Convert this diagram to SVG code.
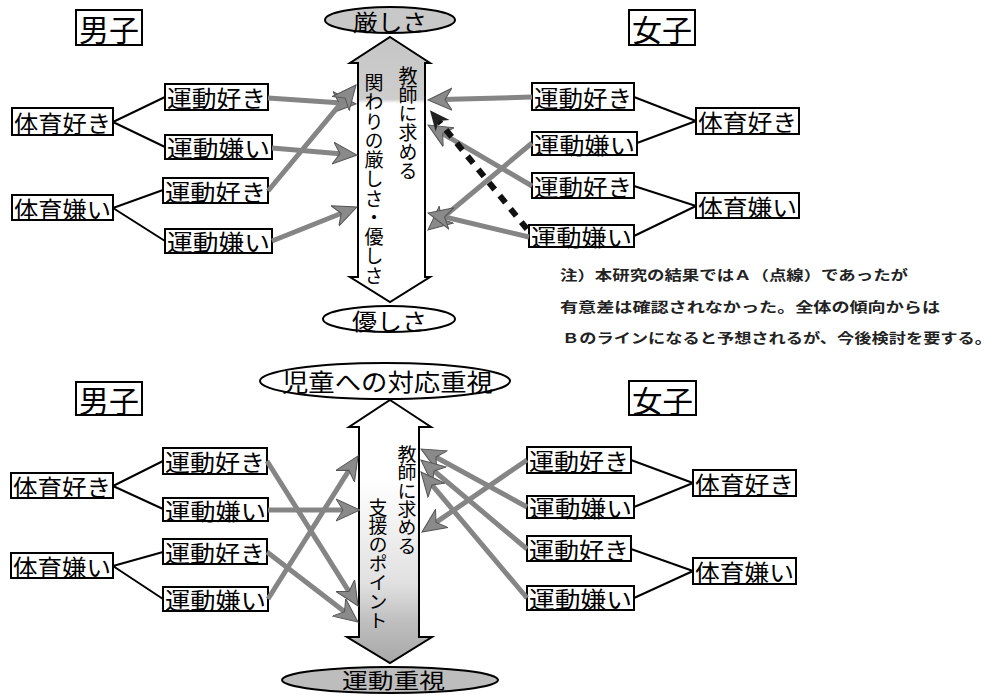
<svg xmlns="http://www.w3.org/2000/svg" width="996" height="695" viewBox="0 0 996 695">
<style>
.box{fill:#fff;stroke:#000;stroke-width:2}
.lbl{font-family:"Noto Sans CJK JP","Noto Sans CJK SC",sans-serif;font-size:23px;dominant-baseline:central;fill:#000}
.big{font-family:"Noto Sans CJK JP","Noto Sans CJK SC",sans-serif;font-size:30px;dominant-baseline:central;fill:#000}
.vt{font-family:"Noto Sans CJK JP","Noto Sans CJK SC",sans-serif;font-size:19px;writing-mode:vertical-rl;fill:#000}
.note{font-family:"Noto Sans CJK JP","Noto Sans CJK SC",sans-serif;font-size:13.5px;font-weight:bold;fill:#222}
.tree{stroke:#000;stroke-width:2;fill:none}
.arr{stroke:#858585;stroke-width:5;fill:none;marker-end:url(#ah)}
.dash{stroke:#111;stroke-width:6;fill:none;stroke-dasharray:9 8;marker-end:url(#ahd)}
.shaft{stroke:#000;stroke-width:2}
.ell{stroke:#000;stroke-width:2}
</style>
<defs>
<marker id="ah" markerUnits="userSpaceOnUse" markerWidth="26" markerHeight="24" refX="10" refY="12" orient="auto" viewBox="0 0 26 24"><path d="M0,1 L24,12 L0,23 L7,12 z" fill="#8a8a8a" stroke="#555" stroke-width="1"/></marker>
<marker id="ahd" markerUnits="userSpaceOnUse" markerWidth="24" markerHeight="22" refX="9" refY="11" orient="auto" viewBox="0 0 24 22"><path d="M0,2 L20,11 L0,20 L6,11 z" fill="#222"/></marker>
<linearGradient id="gTop" gradientUnits="userSpaceOnUse" x1="0" y1="37" x2="0" y2="302"><stop offset="0" stop-color="#c6c6c6"/><stop offset="0.235" stop-color="#cdcdcd"/><stop offset="0.25" stop-color="#fff"/><stop offset="1" stop-color="#fff"/></linearGradient>
<linearGradient id="gBot" gradientUnits="userSpaceOnUse" x1="0" y1="400" x2="0" y2="663"><stop offset="0" stop-color="#fff"/><stop offset="0.3" stop-color="#fff"/><stop offset="0.7" stop-color="#e0e0e0"/><stop offset="0.85" stop-color="#bdbdbd"/><stop offset="1" stop-color="#a8a8a8"/></linearGradient>
</defs>
<rect width="996" height="695" fill="#fff"/>

<!-- ===== TOP SECTION ===== -->
<g id="axis-top">
<polygon class="shaft" fill="url(#gTop)" points="390,37 430,63 425,63 425,277 430,277 390,302 350,277 358,277 358,63 350,63"/>
<text class="vt" x="408" y="66" textLength="114" lengthAdjust="spacingAndGlyphs">教師に求める</text>
<text class="vt" x="374" y="73" textLength="212" lengthAdjust="spacingAndGlyphs">関わりの厳しさ・優しさ</text>
</g>
<g id="pole-strict">
<ellipse class="ell" cx="390" cy="20" rx="65" ry="13" fill="#c8c8c8"/>
<text class="lbl" x="353" y="21" textLength="74" lengthAdjust="spacingAndGlyphs">厳しさ</text>
</g>
<g id="pole-gentle">
<ellipse class="ell" cx="389" cy="319" rx="66" ry="13" fill="#fff"/>
<text class="lbl" x="352" y="320" textLength="75" lengthAdjust="spacingAndGlyphs">優しさ</text>
</g>

<g id="boys-top"><rect class="box" x="76" y="10" width="66" height="35"/><text class="big" x="79" y="28" textLength="60" lengthAdjust="spacingAndGlyphs">男子</text></g>
<g id="girls-top"><rect class="box" x="629" y="10" width="66" height="35"/><text class="big" x="632" y="28" textLength="60" lengthAdjust="spacingAndGlyphs">女子</text></g>

<g id="tb-pe-like"><rect class="box" x="12" y="108" width="101" height="27"/><text class="lbl" x="14" y="121.5" textLength="97" lengthAdjust="spacingAndGlyphs">体育好き</text></g>
<g id="tb-ex-like1"><rect class="box" x="165" y="84" width="103" height="26"/><text class="lbl" x="167" y="97" textLength="99" lengthAdjust="spacingAndGlyphs">運動好き</text></g>
<g id="tb-ex-dislike1"><rect class="box" x="165" y="135" width="107" height="24"/><text class="lbl" x="167" y="147" textLength="103" lengthAdjust="spacingAndGlyphs">運動嫌い</text></g>
<g id="tb-pe-dislike"><rect class="box" x="12" y="195" width="101" height="25"/><text class="lbl" x="14" y="207.5" textLength="97" lengthAdjust="spacingAndGlyphs">体育嫌い</text></g>
<g id="tb-ex-like2"><rect class="box" x="163" y="178" width="105" height="25"/><text class="lbl" x="165" y="190.5" textLength="101" lengthAdjust="spacingAndGlyphs">運動好き</text></g>
<g id="tb-ex-dislike2"><rect class="box" x="165" y="229" width="107" height="24"/><text class="lbl" x="167" y="241" textLength="103" lengthAdjust="spacingAndGlyphs">運動嫌い</text></g>

<g id="tg-ex-like1"><rect class="box" x="532" y="83" width="102" height="27"/><text class="lbl" x="534" y="96.5" textLength="98" lengthAdjust="spacingAndGlyphs">運動好き</text></g>
<g id="tg-ex-dislike1"><rect class="box" x="532" y="132" width="105" height="23"/><text class="lbl" x="534" y="143.5" textLength="101" lengthAdjust="spacingAndGlyphs">運動嫌い</text></g>
<g id="tg-ex-like2"><rect class="box" x="532" y="173" width="102" height="25"/><text class="lbl" x="534" y="185.5" textLength="98" lengthAdjust="spacingAndGlyphs">運動好き</text></g>
<g id="tg-ex-dislike2"><rect class="box" x="529" y="225" width="105" height="22"/><text class="lbl" x="531" y="236" textLength="101" lengthAdjust="spacingAndGlyphs">運動嫌い</text></g>
<g id="tg-pe-like"><rect class="box" x="696" y="108" width="103" height="26"/><text class="lbl" x="698" y="121" textLength="99" lengthAdjust="spacingAndGlyphs">体育好き</text></g>
<g id="tg-pe-dislike"><rect class="box" x="696" y="193" width="103" height="25"/><text class="lbl" x="698" y="205.5" textLength="99" lengthAdjust="spacingAndGlyphs">体育嫌い</text></g>

<g id="note">
<text class="note" x="560" y="280" textLength="348" lengthAdjust="spacingAndGlyphs">注）本研究の結果ではＡ（点線）であったが</text>
<text class="note" x="560" y="312" textLength="380" lengthAdjust="spacingAndGlyphs">有意差は確認されなかった。全体の傾向からは</text>
<text class="note" x="562" y="343" textLength="430" lengthAdjust="spacingAndGlyphs">Ｂのラインになると予想されるが、今後検討を要する。</text>
</g>

<!-- ===== BOTTOM SECTION ===== -->
<g id="axis-bottom">
<polygon class="shaft" fill="url(#gBot)" points="390,400 431,427 419,427 419,637 432,637 390,663 347,637 359,637 359,427 349,427"/>
<text class="vt" x="407" y="445" textLength="110" lengthAdjust="spacingAndGlyphs">教師に求める</text>
<text class="vt" x="378" y="498" textLength="132" lengthAdjust="spacingAndGlyphs">支援のポイント</text>
</g>
<g id="pole-child">
<ellipse class="ell" cx="385" cy="381" rx="125" ry="18" fill="#fff"/>
<text class="lbl" x="282" y="380" textLength="211" lengthAdjust="spacingAndGlyphs" style="font-size:24px">児童への対応重視</text>
</g>
<g id="pole-exercise">
<ellipse class="ell" cx="390" cy="680" rx="108" ry="13" fill="#bdbdbd"/>
<text class="lbl" x="342" y="679" textLength="103" lengthAdjust="spacingAndGlyphs" style="font-size:21px">運動重視</text>
</g>

<g id="boys-bottom"><rect class="box" x="76" y="382" width="66" height="33"/><text class="big" x="79" y="399" textLength="60" lengthAdjust="spacingAndGlyphs">男子</text></g>
<g id="girls-bottom"><rect class="box" x="629" y="381" width="67" height="34"/><text class="big" x="632" y="398.5" textLength="61" lengthAdjust="spacingAndGlyphs">女子</text></g>

<g id="bb-pe-like"><rect class="box" x="11" y="473" width="102" height="25"/><text class="lbl" x="13" y="485.5" textLength="98" lengthAdjust="spacingAndGlyphs">体育好き</text></g>
<g id="bb-ex-like1"><rect class="box" x="163" y="448" width="104" height="26"/><text class="lbl" x="165" y="461" textLength="100" lengthAdjust="spacingAndGlyphs">運動好き</text></g>
<g id="bb-ex-dislike1"><rect class="box" x="163" y="498" width="105" height="23"/><text class="lbl" x="165" y="509.5" textLength="101" lengthAdjust="spacingAndGlyphs">運動嫌い</text></g>
<g id="bb-pe-dislike"><rect class="box" x="11" y="553" width="102" height="25"/><text class="lbl" x="13" y="565.5" textLength="98" lengthAdjust="spacingAndGlyphs">体育嫌い</text></g>
<g id="bb-ex-like2"><rect class="box" x="163" y="539" width="104" height="25"/><text class="lbl" x="165" y="551.5" textLength="100" lengthAdjust="spacingAndGlyphs">運動好き</text></g>
<g id="bb-ex-dislike2"><rect class="box" x="163" y="587" width="105" height="24"/><text class="lbl" x="165" y="599" textLength="101" lengthAdjust="spacingAndGlyphs">運動嫌い</text></g>

<g id="bg-ex-like1"><rect class="box" x="527" y="447" width="104" height="26"/><text class="lbl" x="529" y="460" textLength="100" lengthAdjust="spacingAndGlyphs">運動好き</text></g>
<g id="bg-ex-dislike1"><rect class="box" x="527" y="496" width="107" height="22"/><text class="lbl" x="529" y="507" textLength="103" lengthAdjust="spacingAndGlyphs">運動嫌い</text></g>
<g id="bg-ex-like2"><rect class="box" x="527" y="536" width="104" height="25"/><text class="lbl" x="529" y="548.5" textLength="100" lengthAdjust="spacingAndGlyphs">運動好き</text></g>
<g id="bg-ex-dislike2"><rect class="box" x="527" y="586" width="107" height="24"/><text class="lbl" x="529" y="598" textLength="103" lengthAdjust="spacingAndGlyphs">運動嫌い</text></g>
<g id="bg-pe-like"><rect class="box" x="693" y="470" width="103" height="26"/><text class="lbl" x="695" y="483" textLength="99" lengthAdjust="spacingAndGlyphs">体育好き</text></g>
<g id="bg-pe-dislike"><rect class="box" x="693" y="558" width="103" height="26"/><text class="lbl" x="695" y="571" textLength="99" lengthAdjust="spacingAndGlyphs">体育嫌い</text></g>

<!-- ===== CONNECTORS ===== -->
<g id="connectors">
<g id="tree-lines">
<path class="tree" d="M113,122 L165,97 M113,122 L165,147 M113,208 L163,190 M113,208 L165,241"/>
<path class="tree" d="M634,97 L696,121 M637,143 L696,121 M634,186 L696,206 M634,236 L696,206"/>
<path class="tree" d="M113,486 L163,461 M113,486 L163,509 M113,566 L163,552 M113,566 L163,599"/>
<path class="tree" d="M631,460 L693,483 M634,507 L693,483 M631,549 L693,571 M634,598 L693,571"/>
</g>
<g id="top-arrows">
<line class="arr" x1="268" y1="98" x2="342" y2="103"/>
<line class="arr" x1="272" y1="148" x2="343" y2="153.9"/>
<line class="arr" x1="268" y1="191" x2="347.1" y2="95.8"/>
<line class="arr" x1="272" y1="241" x2="344" y2="212.2"/>
<line class="arr" x1="532" y1="97" x2="442" y2="99.6"/>
<line class="arr" x1="532" y1="143" x2="438.7" y2="221"/>
<line class="arr" x1="532" y1="186" x2="440.1" y2="132.1"/>
<line class="arr" x1="529" y1="237" x2="441.6" y2="216.2"/>
<line class="dash" x1="527" y1="229" x2="436.9" y2="118.8"/>
</g>
<g id="bottom-arrows">
<line class="arr" x1="267" y1="461" x2="350.6" y2="594.1"/>
<line class="arr" x1="268" y1="510" x2="346" y2="510"/>
<line class="arr" x1="267" y1="552" x2="346.9" y2="613.5"/>
<line class="arr" x1="268" y1="599" x2="350.5" y2="467.8"/>
<line class="arr" x1="527" y1="460" x2="433.5" y2="524.1"/>
<line class="arr" x1="527" y1="507" x2="433.3" y2="455.7"/>
<line class="arr" x1="527" y1="549" x2="431.7" y2="469"/>
<line class="arr" x1="527" y1="598" x2="430" y2="482.7"/>
</g>
</g>
</svg>
